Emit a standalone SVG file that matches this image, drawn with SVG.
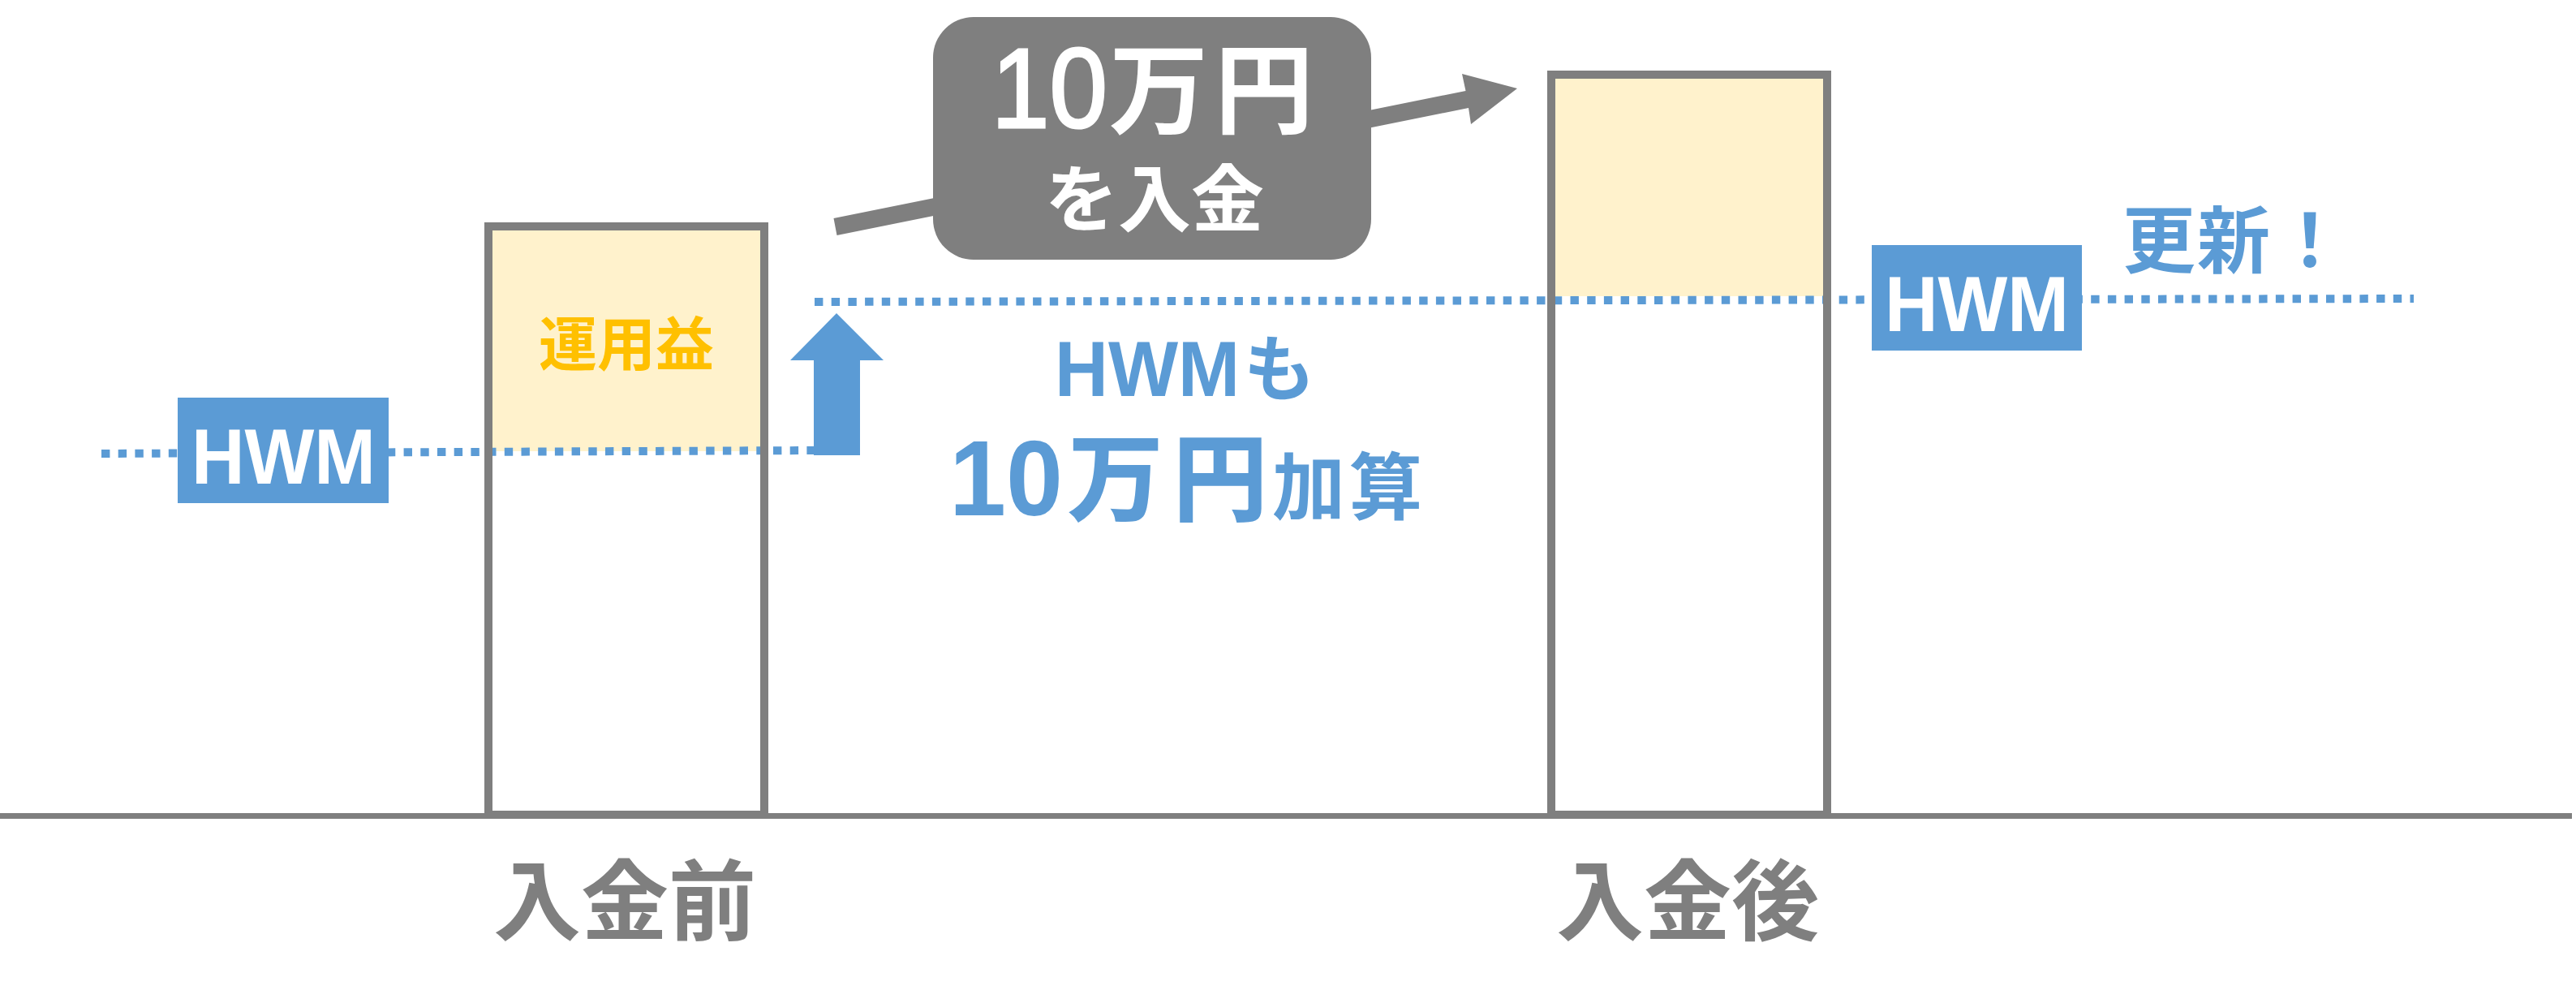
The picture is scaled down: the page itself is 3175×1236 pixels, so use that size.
<svg xmlns="http://www.w3.org/2000/svg" width="3175" height="1236" viewBox="0 0 3175 1236">
<style>
text{font-family:"Noto Sans CJK JP","Liberation Sans",sans-serif;font-weight:700}
.lat{font-family:"Liberation Sans",Arial,sans-serif;font-weight:700}
.bar{fill:none;stroke:#7f7f7f;stroke-width:10}
.profit{fill:#fff2cc}
.hwm{fill:#5b9bd5}
.dots{fill:none;stroke:#5b9bd5;stroke-width:10;stroke-dasharray:10.4 10.3}
.blue{fill:#5b9bd5}
.gray{fill:#7f7f7f}
.white{fill:#fff}
.heavy-blue{stroke:#5b9bd5;stroke-width:2}
.mid-white{font-weight:400;stroke:#fff;stroke-width:3}
</style>
<rect width="3175" height="1236" fill="#fff"/>
<g id="profit-fills">
<rect class="profit" x="607" y="284" width="330" height="272"/>
<rect class="profit" x="1917" y="97" width="330" height="268"/>
</g>
<g id="connectors">
<path class="dots" d="M125 559L1003 555"/>
<path class="dots" d="M1004 372L2975 368"/>
<polygon id="deposit-arrow" class="gray" points="1027.5,269 1806.5,112 1802,91 1870,109 1813,153 1810,133 1031.5,290"/>
</g>
<g id="bar-before"><rect class="bar" x="602" y="279" width="340" height="725"/></g>
<g id="bar-after"><rect class="bar" x="1912" y="92" width="340" height="912"/></g>
<g id="baseline"><rect class="gray" x="0" y="1002" width="3170" height="7"/></g>
<g id="label-profit"><text x="664" y="450" font-size="72" fill="#ffc000" textLength="216" lengthAdjust="spacing">運用益</text></g>
<g id="hwm-before">
<rect class="hwm" x="219" y="490" width="260" height="130"/>
<text class="lat white" x="236" y="596" font-size="96" textLength="227" lengthAdjust="spacingAndGlyphs">HWM</text>
</g>
<g id="hwm-up-arrow"><polygon class="blue" points="1031,386 1089,444 1060,444 1060,561 1003,561 1003,444 974,444"/></g>
<g id="deposit-box">
<rect class="gray" x="1150" y="21" width="540" height="299" rx="50" ry="50"/>
<text class="lat white mid-white" x="1222" y="157" font-size="139" textLength="143" lengthAdjust="spacingAndGlyphs">10</text>
<text class="white" font-size="122" y="155"><tspan x="1367">万</tspan><tspan x="1497">円</tspan></text>
<text class="white" x="1288" y="278" font-size="90">を入金</text>
</g>
<g id="hwm-add-label">
<text class="lat blue" x="1300" y="488" font-size="96" textLength="228" lengthAdjust="spacingAndGlyphs">HWM</text>
<text class="blue" x="1533" y="486" font-size="88">も</text>
<text class="lat blue" x="1170" y="635" font-size="132" textLength="140" lengthAdjust="spacingAndGlyphs">10</text>
<text class="blue heavy-blue" font-size="116" y="632"><tspan x="1317">万</tspan><tspan x="1446">円</tspan></text>
<text class="blue" font-size="90" y="633"><tspan x="1568">加</tspan><tspan x="1663">算</tspan></text>
</g>
<g id="hwm-after">
<rect class="hwm" x="2307" y="302" width="259" height="130"/>
<text class="lat white" x="2323" y="408" font-size="96" textLength="227" lengthAdjust="spacingAndGlyphs">HWM</text>
</g>
<g id="label-updated"><text class="blue" font-size="90" y="329"><tspan x="2616">更</tspan><tspan x="2708">新</tspan><tspan x="2802">！</tspan></text></g>
<g id="label-before"><text x="608" y="1150" font-size="108" fill="#7f7f7f">入金前</text></g>
<g id="label-after"><text x="1918" y="1150" font-size="108" fill="#7f7f7f">入金後</text></g>
</svg>
